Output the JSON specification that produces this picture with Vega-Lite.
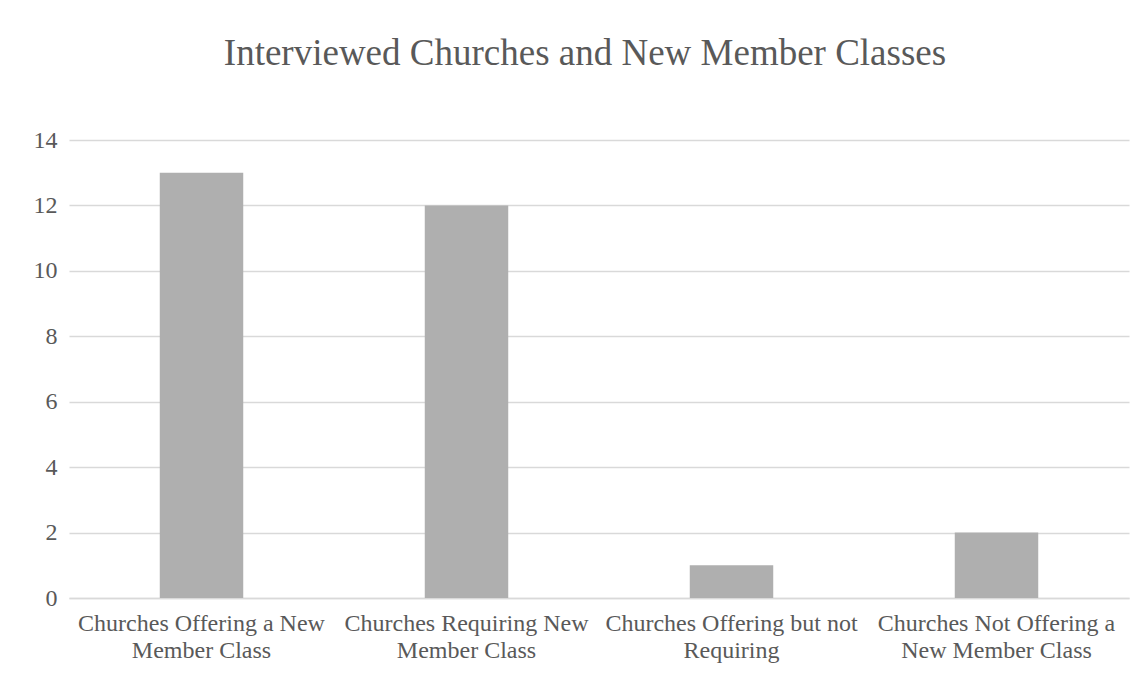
{
  "$schema": "https://vega.github.io/schema/vega-lite/v6.json",
  "width": 1060,
  "height": 458,
  "autosize": {"type": "none"},
  "padding": {"left": 69, "top": 140, "right": 17, "bottom": 79},
  "background": "white",
  "title": {
    "text": "Interviewed Churches and New Member Classes",
    "font": "Liberation Serif",
    "fontSize": 37,
    "fontWeight": "normal",
    "color": "#595959",
    "anchor": "middle",
    "frame": "group",
    "baseline": "alphabetic",
    "dx": -14,
    "offset": 26
  },
  "data": {
    "values": [
      {"category": "Churches Offering a New|Member Class", "count": 13},
      {"category": "Churches Requiring New|Member Class", "count": 12},
      {"category": "Churches Offering but not|Requiring", "count": 1},
      {"category": "Churches Not Offering a|New Member Class", "count": 2}
    ]
  },
  "mark": {"type": "bar", "color": "#afafaf"},
  "encoding": {
    "x": {
      "field": "category",
      "type": "nominal",
      "sort": null,
      "scale": {"paddingInner": 0.685, "paddingOuter": 0.3425},
      "axis": {
        "title": null,
        "labelAngle": 0,
        "labelExpr": "split(datum.label, '|')",
        "labelFont": "Liberation Serif",
        "labelFontSize": 24,
        "labelLineHeight": 27,
        "labelColor": "#595959",
        "labelPadding": 13,
        "ticks": false,
        "tickSize": 0,
        "domainColor": "#d9d9d9",
        "domainWidth": 1.5,
        "labelLimit": 400
      }
    },
    "y": {
      "field": "count",
      "type": "quantitative",
      "scale": {"domain": [0, 14], "nice": false},
      "axis": {
        "title": null,
        "values": [0, 2, 4, 6, 8, 10, 12, 14],
        "domain": false,
        "ticks": false,
        "tickSize": 0,
        "labelPadding": 12,
        "labelFont": "Liberation Serif",
        "labelFontSize": 24,
        "labelColor": "#595959",
        "gridColor": "#d9d9d9",
        "gridWidth": 1.5
      }
    }
  },
  "config": {"view": {"stroke": null}}
}
